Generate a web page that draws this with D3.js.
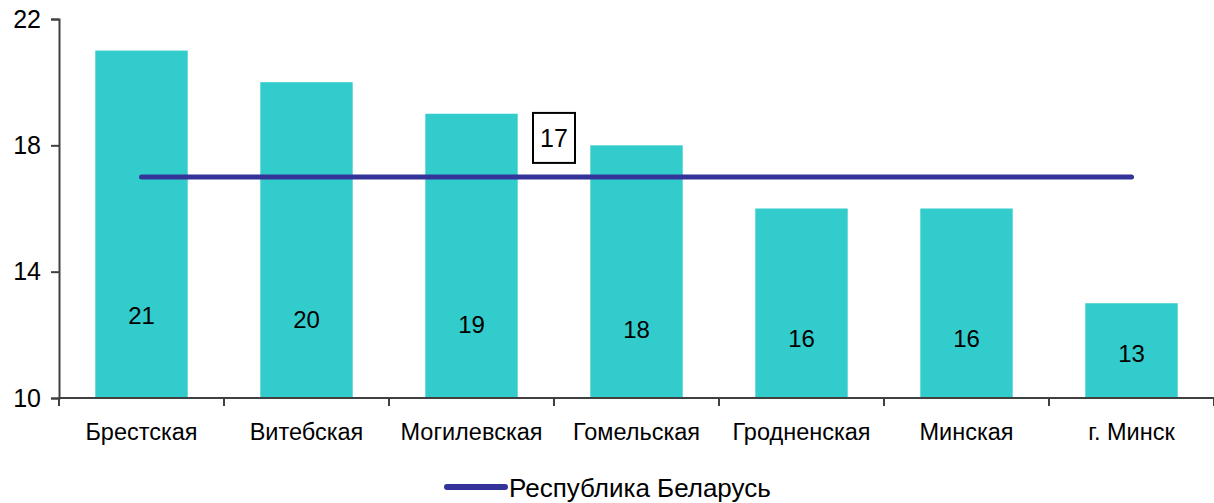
<!DOCTYPE html>
<html>
<head>
<meta charset="utf-8">
<script src="https://cdn.jsdelivr.net/npm/d3@7"></script>
<style>
  body { margin: 0; background: #fff; }
  svg { font-family: 'Liberation Sans', Arial, sans-serif; }
</style>
</head>
<body>
<div id="chart"></div>
<script>
const regions = ['Брестская', 'Витебская', 'Могилевская', 'Гомельская', 'Гродненская', 'Минская', 'г. Минск']
const values = [21, 20, 19, 18, 16, 16, 13]
const republic = 17
const republicName = 'Республика Беларусь'
const yTicks = [10, 14, 18, 22]

const width = 1214
const height = 503
const plotLeft = 59
const plotTop = 19
const plotBottom = 398

const svg = d3.select('#chart')
    .append('svg')
    .attr('width', width)
    .attr('height', height)

const x = d3.scaleBand()
    .domain(regions)
    .range([plotLeft, width])
    .paddingInner(0.44)
    .paddingOuter(0.22)

const y = d3.scaleLinear()
    .domain([10, 22])
    .range([plotBottom, plotTop])

// bars
svg.selectAll('rect.bar')
    .data(values)
    .enter()
    .append('rect')
    .attr('class', 'bar')
    .attr('fill', '#33cccc')
    .attr('x', (d, i) => x(regions[i]))
    .attr('y', d => y(d))
    .attr('width', x.bandwidth())
    .attr('height', d => plotBottom - y(d))

// value labels, placed low inside the bars
svg.selectAll('text.val')
    .data(values)
    .enter()
    .append('text')
    .attr('class', 'val')
    .attr('x', (d, i) => x(regions[i]) + x.bandwidth() / 2)
    .attr('y', d => y(11.42 + 0.15 * (d - 13)))
    .attr('dy', '0.35em')
    .attr('text-anchor', 'middle')
    .attr('font-size', 24)
    .attr('fill', '#000')
    .text(d => d)

// axes
const yAxis = d3.axisLeft(y).tickValues(yTicks).tickSize(8).tickPadding(10)
const gy = svg.append('g')
    .attr('transform', `translate(${plotLeft}, 0)`)
    .call(yAxis)
gy.select('.domain').attr('stroke', '#404040').attr('stroke-width', 2)
gy.selectAll('.tick line').attr('stroke', '#404040').attr('stroke-width', 2)
gy.selectAll('.tick text').attr('font-size', 25).attr('fill', '#000').attr('font-family', 'Liberation Sans, Arial, sans-serif')

const step = x.step()
const xEdges = d3.range(regions.length + 1).map(i => plotLeft + i * step)
svg.append('line')
    .attr('x1', plotLeft).attr('x2', width)
    .attr('y1', plotBottom).attr('y2', plotBottom)
    .attr('stroke', '#404040').attr('stroke-width', 2)
svg.selectAll('line.xtick')
    .data(xEdges)
    .enter()
    .append('line')
    .attr('class', 'xtick')
    .attr('x1', d => d).attr('x2', d => d)
    .attr('y1', plotBottom).attr('y2', plotBottom + 8)
    .attr('stroke', '#404040').attr('stroke-width', 2)

svg.selectAll('text.cat')
    .data(regions)
    .enter()
    .append('text')
    .attr('class', 'cat')
    .attr('x', d => x(d) + x.bandwidth() / 2)
    .attr('y', 432)
    .attr('dy', '0.35em')
    .attr('text-anchor', 'middle')
    .attr('font-size', 23.5)
    .attr('fill', '#000')
    .text(d => d)

// republic line
const cx = d => x(d) + x.bandwidth() / 2
svg.append('line')
    .attr('x1', cx(regions[0]))
    .attr('x2', cx(regions[regions.length - 1]))
    .attr('y1', y(republic)).attr('y2', y(republic))
    .attr('stroke', '#333399')
    .attr('stroke-width', 5)
    .attr('stroke-linecap', 'round')

const lx = (cx(regions[2]) + cx(regions[3])) / 2
const ly = y(republic) - 39
svg.append('rect')
    .attr('x', lx - 21).attr('y', ly - 25)
    .attr('width', 42).attr('height', 50)
    .attr('fill', '#fff')
    .attr('stroke', '#000')
    .attr('stroke-width', 2)
svg.append('text')
    .attr('x', lx).attr('y', ly)
    .attr('dy', '0.35em')
    .attr('text-anchor', 'middle')
    .attr('font-size', 25)
    .text(republic)

// legend
svg.append('line')
    .attr('x1', 447).attr('x2', 505)
    .attr('y1', 487).attr('y2', 487)
    .attr('stroke', '#333399')
    .attr('stroke-width', 6)
    .attr('stroke-linecap', 'round')
svg.append('text')
    .attr('x', 509).attr('y', 488)
    .attr('dy', '0.35em')
    .attr('font-size', 26)
    .text(republicName)
</script>
</body>
</html>
